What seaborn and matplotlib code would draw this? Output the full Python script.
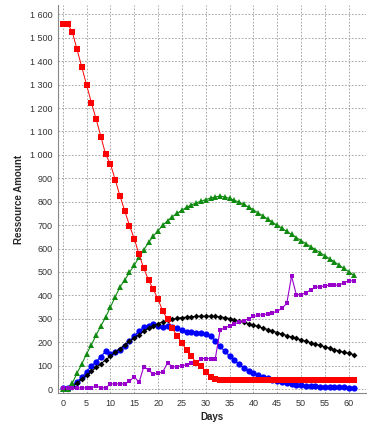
import numpy as np
import seaborn as sns
import matplotlib
matplotlib.use("Agg")
import matplotlib.pyplot as plt
from matplotlib.ticker import FuncFormatter, MultipleLocator

# Days 0..61
days = np.arange(0, 62)

red = [1560, 1560, 1525, 1450, 1374, 1299, 1223, 1153, 1078, 1002,
       961, 894, 825, 761, 698, 642, 575, 515, 465, 426,
       383, 332, 297, 259, 227, 196, 165, 140, 112, 98,
       74, 52, 43, 40, 40, 40, 40, 40, 40, 40,
       40, 40, 40, 40, 40, 40, 40, 40, 40, 40,
       40, 40, 40, 40, 40, 40, 40, 40, 40, 40,
       40, 40]

green = [0, 0, 25, 68, 107, 150, 188, 230, 269, 307,
         350, 393, 436, 465, 498, 529, 562, 594, 626, 653,
         676, 700, 719, 736, 750, 764, 776, 786, 795, 802,
         809, 815, 820, 824, 820, 814, 806, 798, 788, 777,
         765, 752, 739, 726, 712, 699, 686, 673, 660, 647,
         634, 621, 608, 595, 582, 569, 556, 543, 529, 515,
         501, 487]

blue = [5, 6, 14, 31, 50, 74, 98, 117, 138, 162,
        149, 159, 167, 185, 205, 226, 248, 263, 269, 276,
        269, 266, 269, 266, 259, 252, 245, 245, 240, 240,
        236, 228, 207, 182, 162, 141, 122, 105, 90, 78,
        68, 60, 52, 45, 40, 35, 30, 26, 22, 19,
        16, 14, 12, 11, 10, 9, 8, 8, 7, 7,
        6, 6]

black = [0, 2, 10, 25, 42, 58, 75, 92, 108, 124,
         140, 157, 173, 188, 203, 218, 232, 246, 259, 270,
         279, 287, 293, 298, 302, 305, 307, 309, 310, 311,
         311, 311, 310, 308, 305, 301, 296, 291, 285, 279,
         273, 267, 260, 254, 247, 241, 235, 228, 222, 216,
         210, 204, 198, 192, 186, 180, 174, 168, 162, 157,
         152, 147]

purple = [5, 5, 5, 5, 5, 5, 5, 13, 5, 5,
          22, 22, 22, 22, 33, 53, 28, 95, 81, 64,
          67, 74, 112, 95, 95, 100, 103, 110, 107, 130,
          130, 130, 130, 250, 262, 268, 278, 286, 292, 300,
          310, 314, 318, 320, 325, 332, 345, 366, 482, 403,
          403, 411, 423, 434, 437, 441, 444, 444, 444, 454,
          462, 462]

sns.set_style("white")
plt.rcParams['font.family'] = ['Liberation Sans', 'DejaVu Sans']

fig = plt.figure(figsize=(3.67, 4.25), dpi=100)
ax = fig.add_axes([0.158, 0.0753, 0.839, 0.913])

# draw order: red ends on top
sns.lineplot(x=days, y=blue, ax=ax, color="#0000ff", marker="o", markersize=4.5,
             markeredgewidth=0, linewidth=0.8)
sns.lineplot(x=days, y=black, ax=ax, color="#000000", marker="D", markersize=3,
             markeredgewidth=0, linewidth=0.8)
sns.lineplot(x=days, y=green, ax=ax, color="#108a10", marker="^", markersize=4.6,
             markeredgewidth=0, linewidth=0.8)
sns.lineplot(x=days, y=purple, ax=ax, color="#9900cc", marker="s", markersize=3,
             markeredgewidth=0, linewidth=0.8)
sns.lineplot(x=days, y=red, ax=ax, color="#ff0000", marker="s", markersize=4.4,
             markeredgewidth=0, linewidth=0.7)

ax.set_xlim(-1.0, 63.6)
ax.set_ylim(-17, 1640)
ax.xaxis.set_major_locator(MultipleLocator(5))
ax.yaxis.set_major_locator(MultipleLocator(100))
ax.yaxis.set_major_formatter(FuncFormatter(lambda v, p: f"{int(v):,}".replace(",", " ")))

ax.grid(True, color="#999999", linestyle=(0, (2, 2)), linewidth=0.6)
ax.set_axisbelow(True)
for s in ["top", "right"]:
    ax.spines[s].set_visible(False)
for s in ["left", "bottom"]:
    ax.spines[s].set_color("#888888")
    ax.spines[s].set_linewidth(0.8)

ax.tick_params(axis="both", length=0, labelsize=6.5, colors="#333333")
ax.tick_params(axis="y", pad=4)
ax.tick_params(axis="x", pad=4)

ax.set_xlabel("Days", fontsize=7, fontweight="bold", labelpad=3)
ax.set_ylabel("Ressource Amount", fontsize=7, fontweight="bold", labelpad=4)

fig.savefig("out.png", dpi=100)
